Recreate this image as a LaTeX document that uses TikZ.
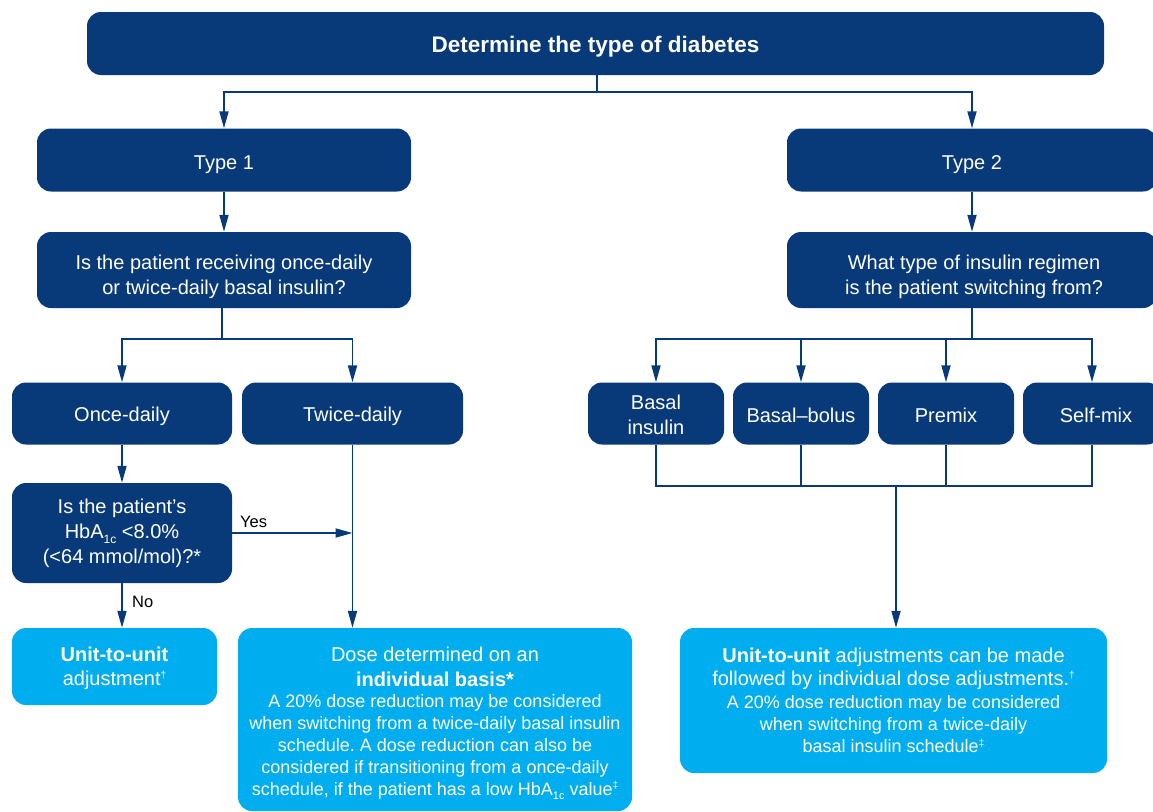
\documentclass[tikz,border=0pt]{standalone}
\usepackage{fontspec}
\setmainfont{Liberation Sans}
\usetikzlibrary{arrows.meta}
\definecolor{navy}{RGB}{8,58,122}
\definecolor{sky}{RGB}{0,174,239}
\newcommand\fsz[2]{\fontsize{#1}{#2}\selectfont}
\newcommand\smsup[1]{\raisebox{0.7ex}{\fontsize{10}{10}\selectfont #1}}
\frenchspacing
\begin{document}
\begin{tikzpicture}[x=1pt,y=-1pt,
  box/.style={rectangle, rounded corners=14pt, inner sep=0pt},
  dbox/.style={box, fill=navy},
  lbox/.style={box, fill=sky},
  txt/.style={text=white, align=center, inner sep=0pt, font=\fsz{20}{25}},
  stxt/.style={txt, font=\fsz{18}{22}},
  link/.style={draw=navy, line width=1.8pt},
  arr/.style={link, -{Triangle[length=17pt,width=9pt]}},
  lab/.style={font=\fsz{16.5}{19}, text=black, inner sep=0pt}]
\useasboundingbox (0,0) rectangle (1153,811);
\clip (0,0) rectangle (1153,811);
% boxes
\node[dbox, minimum width=1017pt, minimum height=63pt] (top) at (595.5,43.5) {};
\node[dbox, minimum width=374pt, minimum height=63pt] (t1) at (224,160) {};
\node[dbox, minimum width=370pt, minimum height=63pt] (t2) at (972,160) {};
\node[dbox, minimum width=374pt, minimum height=76pt] (q1) at (224,270) {};
\node[dbox, minimum width=370pt, minimum height=76pt] (q2) at (972,270) {};
\node[dbox, minimum width=220pt, minimum height=62pt] (once) at (122,413.5) {};
\node[dbox, minimum width=221pt, minimum height=62pt] (twice) at (352.5,413.5) {};
\node[dbox, minimum width=220pt, minimum height=100pt] (hba) at (122,533) {};
\node[dbox, minimum width=136pt, minimum height=62pt] (basal) at (656,413.5) {};
\node[dbox, minimum width=136pt, minimum height=62pt] (bb) at (801,413.5) {};
\node[dbox, minimum width=136pt, minimum height=62pt] (premix) at (946,413.5) {};
\node[dbox, minimum width=138pt, minimum height=62pt] (self) at (1092,413.5) {};
\node[lbox, minimum width=205pt, minimum height=77pt] (unit) at (114.5,666.5) {};
\node[lbox, minimum width=394pt, minimum height=183pt] (dose) at (435,719.5) {};
\node[lbox, minimum width=427pt, minimum height=145pt] (right) at (893.5,700.5) {};
% texts
\node[txt, font=\bfseries\fsz{22.5}{26}] (top-t) at (595.5,47) {Determine the type of diabetes};
\node[txt] (t1-t) at (224,164.5) {Type 1};
\node[txt] (t2-t) at (972,164.5) {Type 2};
\node[txt] (q1-t) at (224,277) {Is the patient receiving once-daily\\or twice-daily basal insulin?};
\node[txt] (q2-t) at (974,277) {What type of insulin regimen\\is the patient switching from?};
\node[txt] (once-t) at (122,416.5) {Once-daily};
\node[txt] (twice-t) at (352.5,416.5) {Twice-daily};
\node[txt] (hba-t) at (122,533.5) {Is the patient’s\\HbA\raisebox{-0.45ex}{\fontsize{12}{12}\selectfont 1c} <8.0\%\\(<64 mmol/mol)?*};
\node[txt] (basal-t) at (656,415) {Basal\\insulin};
\node[txt] (bb-t) at (801,415) {Basal–bolus};
\node[txt] (premix-t) at (946,415) {Premix};
\node[txt] (self-t) at (1096,415) {Self-mix};
\node[txt] (unit-t) at (114.5,668.5) {\textbf{Unit-to-unit}\\[-1pt]adjustment\smsup{†}};
\node[stxt] (dose-t) at (435,723.5) {\fsz{20}{25}Dose determined on an\\[3pt]\fsz{20}{25}\textbf{individual basis*}\\[-1pt]
 A 20\% dose reduction may be considered\\when switching from a twice-daily basal insulin\\schedule. A dose reduction can also be\\considered if transitioning from a once-daily\\schedule, if the patient has a low HbA\raisebox{-0.45ex}{\fontsize{11}{11}\selectfont 1c} value\smsup{‡}};
\node[stxt] (right-t) at (893.5,700.5) {\fsz{20}{25}\textbf{Unit-to-unit} adjustments can be made\\[1pt]\fsz{20}{25}followed by individual dose adjustments.\smsup{†}\\[1pt]
 A 20\% dose reduction may be considered\\when switching from a twice-daily\\basal insulin schedule\smsup{‡}};
\node[lab, anchor=west] (yes) at (240,522) {Yes};
\node[lab, anchor=west] (no) at (132,602) {No};
% connectors
\coordinate (j1) at (597,92);
\draw[link] (top.south -| j1) -- (j1);
\draw[arr] (j1) -| (t1.north);
\draw[arr] (j1) -| (t2.north);
\draw[arr] (t1.south) -- (q1.north);
\draw[arr] (t2.south) -- (q2.north);
\coordinate (j2) at (222,339);
\draw[link] (q1.south -| j2) -- (j2);
\draw[arr] (j2) -| (once.north);
\draw[arr] (j2) -| (twice.north);
\draw[arr] (once.south) -- (hba.north);
\draw[arr] (hba.south) -- (hba.south |- unit.north);
\draw[arr] (hba.east) -- (hba.east -| twice.south);
\draw[arr] (twice.south) -- (twice.south |- dose.north);
\coordinate (j3) at (972,339);
\draw[link] (q2.south -| j3) -- (j3);
\draw[arr] (j3) -| (basal.north);
\draw[arr] (j3) -| (bb.north);
\draw[arr] (j3) -| (premix.north);
\draw[arr] (j3) -| (self.north);
\coordinate (j4) at (896,486);
\draw[link] (basal.south) |- (self.south |- j4) -- (self.south);
\draw[link] (bb.south) -- (bb.south |- j4);
\draw[link] (premix.south) -- (premix.south |- j4);
\draw[arr] (j4) -- (j4 |- right.north);
\end{tikzpicture}
\end{document}
